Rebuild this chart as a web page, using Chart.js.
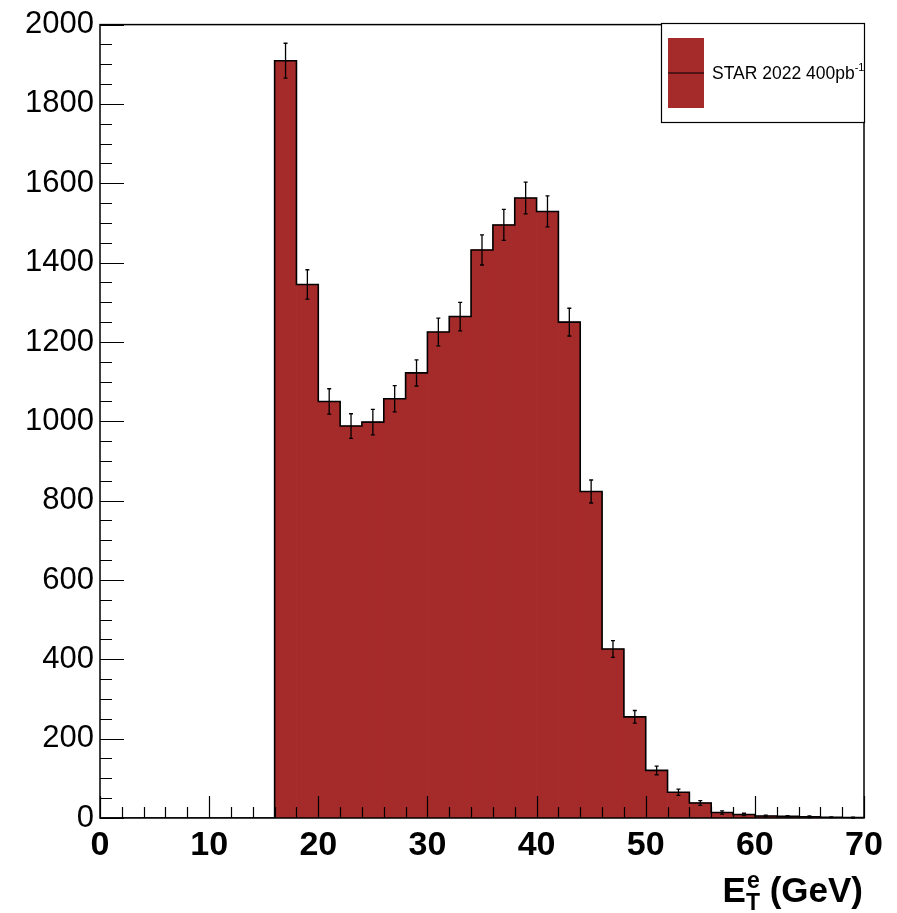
<!DOCTYPE html>
<html>
<head>
<meta charset="utf-8">
<script src="https://cdn.jsdelivr.net/npm/chart.js@4.4.0/dist/chart.umd.min.js"></script>
<style>
  html, body { margin: 0; padding: 0; background: #fff; }
  #wrap { width: 897px; height: 913px; }
</style>
</head>
<body>
<div id="wrap"><canvas id="chart"></canvas></div>
<script>
// ビンの下端・上端 (GeV)
const binLow  = [0, 2, 4, 6, 8, 10, 12, 14, 16, 18, 20, 22, 24, 26, 28, 30, 32, 34, 36, 38, 40, 42, 44, 46, 48, 50, 52, 54, 56, 58, 60, 62, 64, 66, 68];
const binHigh = [2, 4, 6, 8, 10, 12, 14, 16, 18, 20, 22, 24, 26, 28, 30, 32, 34, 36, 38, 40, 42, 44, 46, 48, 50, 52, 54, 56, 58, 60, 62, 64, 66, 68, 70];

// 各ビンのイベント数
const counts = [0, 0, 0, 0, 0, 0, 0, 0,
  1909, 1345, 1050, 988, 998, 1057, 1122, 1225, 1264, 1432, 1495, 1563, 1529, 1250,
  823, 426, 255, 120, 65, 38, 14, 9, 5, 4, 3, 2, 1];

// 誤差 (エラーバー)
const errors = [0, 0, 0, 0, 0, 0, 0, 0,
  44, 37, 32, 31, 32, 33, 33, 35, 36, 38, 39, 40, 39, 35,
  29, 21, 16, 11, 8, 6, 4, 3, 2, 2, 2, 1, 1];

// 軸の目盛りラベル
const xTicks = [0, 10, 20, 30, 40, 50, 60, 70];
const yTicks = [0, 200, 400, 600, 800, 1000, 1200, 1400, 1600, 1800, 2000];

const FILL = '#a52a2a';
const FONT = "'Liberation Sans', Arial, Helvetica, sans-serif";

// 棒 (ビン中心)
const barData = counts.map((c, i) => ({ x: (binLow[i] + binHigh[i]) / 2, y: c }));
// 外形線 (ステップ)
const stepData = counts.map((c, i) => ({ x: binLow[i], y: c }));
stepData.push({ x: binHigh[binHigh.length - 1], y: counts[counts.length - 1] });

// エラーバー・目盛り・枠・凡例・軸タイトル
const decor = {
  id: 'decor',
  afterDatasetsDraw(chart) {
    const ctx = chart.ctx;
    const xs = chart.scales.x;
    const ys = chart.scales.y;
    const a = chart.chartArea;
    ctx.save();

    // エラーバー
    ctx.strokeStyle = '#000';
    ctx.lineWidth = 1.3;
    counts.forEach((c, i) => {
      if (c <= 0) return;
      const px = xs.getPixelForValue((binLow[i] + binHigh[i]) / 2);
      const top = ys.getPixelForValue(c + errors[i]);
      const bot = ys.getPixelForValue(Math.max(c - errors[i], 0));
      ctx.beginPath();
      ctx.moveTo(px, top); ctx.lineTo(px, bot);
      ctx.moveTo(px - 2, top); ctx.lineTo(px + 2, top);
      ctx.moveTo(px - 2, bot); ctx.lineTo(px + 2, bot);
      ctx.stroke();
    });

    // 目盛り (内向き)
    ctx.lineWidth = 1.2;
    ctx.beginPath();
    binLow.concat([binHigh[binHigh.length - 1]]).forEach(v => {
      const px = Math.round(xs.getPixelForValue(v)) + 0.5;
      const len = v % 10 === 0 ? 22 : 11;
      ctx.moveTo(px, a.bottom); ctx.lineTo(px, a.bottom - len);
    });
    for (let v = 0; v <= 2000; v += 50) {
      const py = Math.round(ys.getPixelForValue(v)) + 0.5;
      const len = v % 200 === 0 ? 24 : 12;
      ctx.moveTo(a.left, py); ctx.lineTo(a.left + len, py);
    }
    ctx.stroke();

    // 枠
    ctx.lineWidth = 1.5;
    ctx.strokeRect(a.left, a.top, a.right - a.left, a.bottom - a.top);

    // 凡例
    const lx = 661, ly = 23, lw = a.right - 661, lh = 99;
    ctx.fillStyle = '#fff';
    ctx.fillRect(lx, ly, lw, lh);
    ctx.lineWidth = 1.2;
    ctx.strokeRect(lx + 0.5, ly + 0.5, lw, lh);
    ctx.fillStyle = FILL;
    ctx.fillRect(668, 38, 36, 70);
    ctx.beginPath();
    ctx.moveTo(668, 73); ctx.lineTo(704, 73);
    ctx.stroke();
    ctx.fillStyle = '#000';
    ctx.textBaseline = 'alphabetic';
    ctx.textAlign = 'left';
    ctx.font = '17.5px ' + FONT;
    const label = 'STAR 2022 400pb';
    ctx.fillText(label, 712, 79);
    const lwid = ctx.measureText(label).width;
    ctx.font = '11px ' + FONT;
    ctx.fillText('-1', 712 + lwid, 71);

    // 軸タイトル E_T^e (GeV)
    const big = 'bold 35px ' + FONT;
    const small = 'bold 23px ' + FONT;
    ctx.font = big;
    const wE = ctx.measureText('E').width;
    const wRest = ctx.measureText(' (GeV)').width;
    ctx.font = small;
    const wSub = Math.max(ctx.measureText('T').width, ctx.measureText('e').width);
    const total = wE + wSub + wRest;
    const base = 902;
    let tx = 863 - total;
    ctx.font = big;
    ctx.fillText('E', tx, base);
    tx += wE;
    ctx.font = small;
    ctx.fillText('T', tx, base + 8);
    ctx.fillText('e', tx + 1, base - 14);
    tx += wSub;
    ctx.font = big;
    ctx.fillText(' (GeV)', tx, base);

    ctx.restore();
  }
};

new Chart(document.getElementById('chart'), {
  data: {
    datasets: [
      {
        type: 'line',
        data: stepData,
        stepped: true,
        borderColor: '#000',
        borderWidth: 1.6,
        pointRadius: 0,
        fill: false,
        order: 0
      },
      {
        type: 'bar',
        data: barData,
        backgroundColor: FILL,
        borderWidth: 0,
        barPercentage: 1,
        categoryPercentage: 1,
        grouped: false,
        order: 1
      }
    ]
  },
  options: {
    responsive: true,
    maintainAspectRatio: false,
    animation: false,
    layout: { padding: { top: 24, right: 33, left: 0, bottom: 0 } },
    plugins: {
      legend: { display: false },
      tooltip: { enabled: false }
    },
    scales: {
      x: {
        type: 'linear',
        min: 0,
        max: 70,
        offset: false,
        grid: { display: false, drawTicks: false, offset: false },
        border: { display: false },
        ticks: {
          color: '#000',
          padding: 7,
          font: { family: FONT, size: 34, weight: 'bold' },
          callback: v => String(v)
        },
        afterBuildTicks: s => { s.ticks = xTicks.map(v => ({ value: v })); },
        afterFit: s => { s.height = 95; }
      },
      y: {
        type: 'linear',
        min: 0,
        max: 2000,
        grid: { display: false, drawTicks: false },
        border: { display: false },
        ticks: {
          color: '#000',
          padding: 6,
          font: { family: FONT, size: 31 },
          callback: v => String(v)
        },
        afterBuildTicks: s => { s.ticks = yTicks.map(v => ({ value: v })); },
        afterFit: s => { s.width = 100; }
      }
    }
  },
  plugins: [decor]
});
</script>
</body>
</html>
